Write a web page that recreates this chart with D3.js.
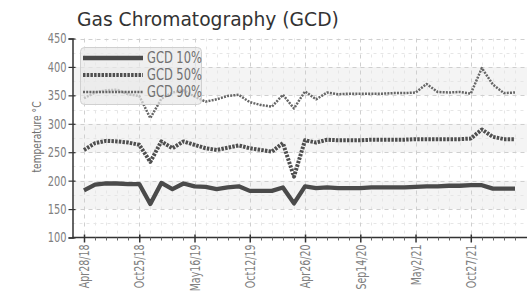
<!DOCTYPE html>
<html>
<head>
<meta charset="utf-8">
<script src="https://cdn.jsdelivr.net/npm/d3@7"></script>
<style>
  body { margin: 0; background: #fff; }
  .tick text { font-family: "Liberation Sans Narrow", "DejaVu Sans Condensed", "DejaVu Sans", sans-serif; fill: #808080; }
</style>
</head>
<body>
<div id="chart"></div>
<script>
// data
var tickLabels = ["Apr28/18", "Oct25/18", "May16/19", "Oct12/19", "Apr26/20", "Sep14/20", "May2/21", "Oct27/21"];
var seriesNames = ["GCD 10%", "GCD 50%", "GCD 90%"];
var gcd10 = [183,193,195,195,194,194,159,196,185,195,190,189,185,188,190,182,182,182,188,160,
             190,187,188,187,187,187,188,188,188,188,189,190,190,191,191,192,192,186,186,186];
var gcd50 = [254,266,270,269,267,263,233,269,257,269,263,257,254,258,262,257,254,251,266,207,
             271,267,272,271,271,271,272,272,272,272,273,273,273,273,273,274,290,277,273,273];
var gcd90 = [345,355,359,360,352,349,310,344,355,359,348,339,343,349,351,338,333,330,351,327,
             357,343,355,352,353,353,353,353,354,354,355,370,356,355,356,353,398,369,354,355];
var yTicks = [100, 150, 200, 250, 300, 350, 400, 450];

var W = 527, H = 296;
var pLeft = 72.5, pRight = 527, pTop = 38.5, pBottom = 237.5;
var narrow = '"Liberation Sans Narrow", "DejaVu Sans Condensed", "DejaVu Sans", sans-serif';
var squeeze = 0.78; // the original labels use a condensed face

var svg = d3.select("#chart").append("svg")
  .attr("width", W).attr("height", H);

var x = d3.scaleLinear().domain([0, gcd10.length - 1]).range([84, 515]);
var y = d3.scaleLinear().domain([100, 450]).range([pBottom, pTop]);

// alternating bands
var bands = [[350, 400], [250, 300], [150, 200]];
svg.selectAll(".band").data(bands).enter().append("rect")
  .attr("x", pLeft).attr("width", pRight - pLeft)
  .attr("y", d => y(d[1])).attr("height", d => y(d[0]) - y(d[1]))
  .attr("fill", "#f4f4f4");

// minor grid
var minorY = d3.range(125, 450, 50);
svg.selectAll(".mgy").data(minorY).enter().append("line")
  .attr("x1", pLeft).attr("x2", pRight)
  .attr("y1", d => Math.round(y(d)) + 0.5).attr("y2", d => Math.round(y(d)) + 0.5)
  .attr("stroke", "#e6e6e6").attr("stroke-dasharray", "3,4");
var minorX = d3.range(0, gcd10.length).filter(i => i % 5 != 0);
svg.selectAll(".mgx").data(minorX).enter().append("line")
  .attr("x1", d => Math.round(x(d)) + 0.5).attr("x2", d => Math.round(x(d)) + 0.5)
  .attr("y1", pTop).attr("y2", pBottom)
  .attr("stroke", "#e6e6e6").attr("stroke-dasharray", "3,5");

// major grid
svg.selectAll(".gy").data(yTicks.slice(1)).enter().append("line")
  .attr("x1", pLeft).attr("x2", pRight)
  .attr("y1", d => Math.round(y(d)) + 0.5).attr("y2", d => Math.round(y(d)) + 0.5)
  .attr("stroke", "#cfcfcf").attr("stroke-dasharray", "4,4");
var majorX = d3.range(0, gcd10.length, 5);
svg.selectAll(".gx").data(majorX).enter().append("line")
  .attr("x1", d => Math.round(x(d)) + 0.5).attr("x2", d => Math.round(x(d)) + 0.5)
  .attr("y1", pTop).attr("y2", pBottom)
  .attr("stroke", "#cfcfcf").attr("stroke-dasharray", "4,4");

// y axis
var yAxis = d3.axisLeft(y).tickValues(yTicks).tickSize(4).tickPadding(3);
var gy = svg.append("g").attr("transform", "translate(" + pLeft + ",0)").call(yAxis);
gy.select(".domain").attr("stroke", "#333").attr("stroke-width", 1.5);
gy.selectAll(".tick line").attr("stroke", "#333").attr("x2", -4).attr("x1", 3).attr("stroke-width", 1.2);
gy.selectAll(".tick text")
  .style("font-size", "14px")
  .attr("x", 0)
  .attr("transform", "translate(-6,0) scale(" + squeeze + ",1)");

// x axis
var xAxis = d3.axisBottom(x).tickValues(majorX).tickSize(5).tickPadding(5)
  .tickFormat((d, i) => tickLabels[i]);
var gx = svg.append("g").attr("transform", "translate(0," + pBottom + ")").call(xAxis);
gx.select(".domain").attr("d", "M" + pLeft + ",0H" + pRight).attr("stroke", "#333").attr("stroke-width", 1.5);
gx.selectAll(".tick line").attr("stroke", "#333").attr("y1", -3).attr("stroke-width", 1.5);
gx.selectAll(".tick text")
  .style("font-size", "13.5px")
  .attr("text-anchor", "end")
  .attr("transform", "translate(0,7) rotate(-90) scale(" + squeeze + ",1)")
  .attr("x", 0).attr("y", 0).attr("dy", "0.35em");
svg.selectAll(".mtx").data(minorX).enter().append("line")
  .attr("x1", d => Math.round(x(d)) + 0.5).attr("x2", d => Math.round(x(d)) + 0.5)
  .attr("y1", pBottom).attr("y2", pBottom + 3)
  .attr("stroke", "#666");

// axis title
svg.append("text")
  .attr("transform", "translate(41,137) rotate(-90) scale(" + squeeze + ",1)")
  .attr("text-anchor", "middle")
  .style("font-family", narrow)
  .style("font-size", "13px").attr("fill", "#707070")
  .text("temperature °C");

// title
svg.append("text")
  .attr("x", 77).attr("y", 26)
  .style("font-family", '"DejaVu Sans", sans-serif')
  .style("font-size", "18.7px").attr("fill", "#333")
  .text("Gas Chromatography (GCD)");

// lines
var styles = [
  {w: 4.3, dash: null, c: "#4a4a4a"},
  {w: 4, dash: "2.5,1.2", c: "#4f4f4f"},
  {w: 2.5, dash: "2,1.2", c: "#666"}
];
var series = [gcd10, gcd50, gcd90];
var line = d3.line().x((d, i) => x(i)).y(d => y(d));

series.forEach(function(s, k) {
  svg.append("path").datum(s)
    .attr("d", line)
    .attr("fill", "none")
    .attr("stroke", styles[k].c)
    .attr("stroke-width", styles[k].w)
    .attr("stroke-dasharray", styles[k].dash)
    .attr("stroke-linejoin", "round");
});

// legend box on top of the lines, semi transparent
svg.append("rect")
  .attr("x", 80.5).attr("y", 47.5).attr("width", 121).attr("height", 57).attr("rx", 4)
  .attr("fill", "rgba(232,232,232,0.7)").attr("stroke", "#d0d0d0");

// legend entries
var lg = svg.selectAll(".lg").data(seriesNames).enter().append("g")
  .attr("transform", (d, i) => "translate(83," + (58 + i * 17) + ")");
lg.append("line").attr("x1", 0).attr("x2", 60)
  .attr("stroke", (d, i) => styles[i].c)
  .attr("stroke-width", (d, i) => styles[i].w)
  .attr("stroke-dasharray", (d, i) => styles[i].dash);
lg.append("text").attr("dy", "0.35em")
  .attr("transform", "translate(64,0) scale(0.85,1)")
  .style("font-family", narrow)
  .style("font-size", "15px").attr("fill", "#707070")
  .text(d => d);
</script>
</body>
</html>
